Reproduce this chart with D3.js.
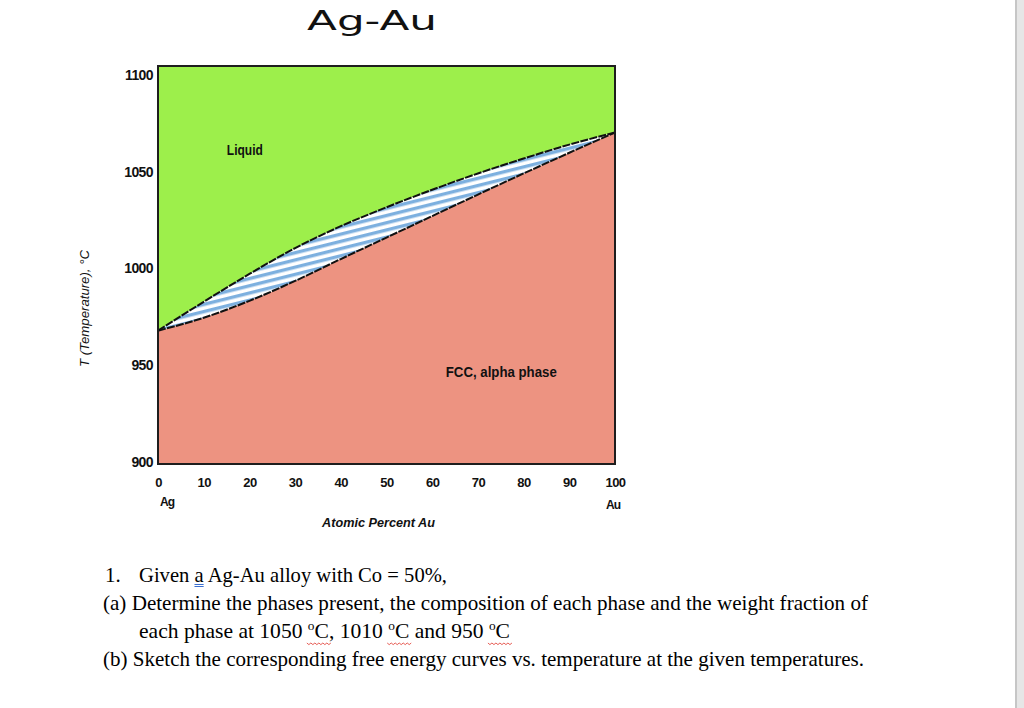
<!DOCTYPE html>
<html><head><meta charset="utf-8">
<script src="https://cdn.jsdelivr.net/npm/d3@7/dist/d3.min.js"></script>
<style>body{margin:0;background:#fff;overflow:hidden} svg{display:block}</style>
</head><body><svg id="c" width="1024" height="708"></svg>
<script>
// ---- data ----
const composition = [0, 10, 20, 30, 40, 50, 60, 70, 80, 90, 100];
const liquidusT   = [967, 981.5, 995.5, 1008.5, 1019.5, 1029, 1037.8, 1046, 1053.5, 1060.5, 1066.6];
const solidusT    = [967, 973.5, 982, 992, 1003, 1013.8, 1024.6, 1035.4, 1046, 1056.4, 1066.6];
const xTickValues = [0, 10, 20, 30, 40, 50, 60, 70, 80, 90, 100];
const yTickValues = [900, 950, 1000, 1050, 1100];
const endLabels   = ["Ag", "Au"];
const phaseNames  = ["Liquid", "FCC, alpha phase"];
const titleText   = "Ag-Au";
const xTitle      = "Atomic Percent Au";
const yTitle      = "T (Temperature), \u00B0C";

const svg = d3.select("#c");
const W = 1024, H = 708;
svg.append("rect").attr("width", W).attr("height", H).attr("fill", "#fff");

// page edge
svg.append("rect").attr("x", 1015).attr("y", 0).attr("width", 2).attr("height", H).attr("fill", "#c6c6c6");
svg.append("rect").attr("x", 1017).attr("y", 0).attr("width", 7).attr("height", H).attr("fill", "#e6e6e6");

const plot = {left: 158, right: 615, top: 66, bottom: 464};
const x = d3.scaleLinear().domain([0, 100]).range([plot.left, plot.right]);
const y = d3.scaleLinear().domain([900, 1100]).range([plot.bottom, plot.top]);
const yLab = d3.scaleLinear().domain([900, 1100]).range([462, 75]);

// hatch pattern
const defs = svg.append("defs");
const pat = defs.append("pattern").attr("id", "hatch").attr("patternUnits", "userSpaceOnUse")
  .attr("width", 10).attr("height", 7).attr("patternTransform", "rotate(-14)");
pat.append("rect").attr("width", 10).attr("height", 7).attr("fill", "#ffffff");
pat.append("rect").attr("y", 0).attr("width", 10).attr("height", 3.4).attr("fill", "#7db0df");

const pts = composition.map((c, i) => ({c, liq: liquidusT[i], sol: solidusT[i]}));
const curve = d3.curveMonotoneX;

svg.append("path").datum(pts)
  .attr("d", d3.area().curve(curve).x(d => x(d.c)).y0(y(1100)).y1(d => y(d.liq)))
  .attr("fill", "#9def4b");
svg.append("path").datum(pts)
  .attr("d", d3.area().curve(curve).x(d => x(d.c)).y0(y(900)).y1(d => y(d.sol)))
  .attr("fill", "#ed9381");
svg.append("path").datum(pts)
  .attr("d", d3.area().curve(curve).x(d => x(d.c)).y0(d => y(d.sol)).y1(d => y(d.liq)))
  .attr("fill", "url(#hatch)");

svg.append("path").datum(pts)
  .attr("d", d3.line().curve(curve).x(d => x(d.c)).y(d => y(d.liq)))
  .attr("fill", "none").attr("stroke", "#111").attr("stroke-width", 2).attr("stroke-dasharray", "8,1.3");
svg.append("path").datum(pts)
  .attr("d", d3.line().curve(curve).x(d => x(d.c)).y(d => y(d.sol)))
  .attr("fill", "none").attr("stroke", "#111").attr("stroke-width", 2).attr("stroke-dasharray", "8,1.3");

// frame
svg.append("rect").attr("x", plot.left).attr("y", plot.top)
  .attr("width", plot.right - plot.left).attr("height", plot.bottom - plot.top)
  .attr("fill", "none").attr("stroke", "#1e1e1e").attr("stroke-width", 2);

const labFont = "'Liberation Sans', Arial, sans-serif";

// y tick labels
const yAxis = d3.axisLeft(yLab).tickValues(yTickValues).tickSize(0).tickPadding(0).tickFormat(d3.format("d"));
const gy = svg.append("g").attr("transform", "translate(153,0)").call(yAxis);
gy.select(".domain").remove();
gy.selectAll("text").attr("font-family", labFont).attr("font-weight", "bold")
  .attr("font-size", 14).attr("letter-spacing", -0.6).attr("fill", "#111");

// x tick labels
const xAxis = d3.axisBottom(x).tickValues(xTickValues).tickSize(0).tickPadding(0).tickFormat(d3.format("d"));
const gx = svg.append("g").attr("transform", "translate(0,478)").call(xAxis);
gx.select(".domain").remove();
gx.selectAll("text").attr("font-family", labFont).attr("font-weight", "bold")
  .attr("font-size", 13).attr("letter-spacing", -0.5).attr("fill", "#111");

// Ag / Au end labels
svg.append("text").attr("x", x(0) + 9).attr("y", 506).attr("text-anchor", "middle")
  .attr("font-family", labFont).attr("font-weight", "bold").attr("font-size", 12).attr("letter-spacing", -1)
  .attr("fill", "#111").text(endLabels[0]);
svg.append("text").attr("x", x(100) - 2).attr("y", 509).attr("text-anchor", "middle")
  .attr("font-family", labFont).attr("font-weight", "bold").attr("font-size", 12).attr("letter-spacing", -1)
  .attr("fill", "#111").text(endLabels[1]);

// axis titles
svg.append("text").attr("x", 322).attr("y", 527)
  .attr("textLength", 113).attr("lengthAdjust", "spacingAndGlyphs")
  .attr("font-family", labFont).attr("font-weight", "bold").attr("font-style", "italic")
  .attr("font-size", 12.5).attr("fill", "#111").text(xTitle);
svg.append("text").attr("transform", "translate(89,367) rotate(-90)")
  .attr("textLength", 117).attr("lengthAdjust", "spacingAndGlyphs")
  .attr("font-family", labFont).attr("font-style", "italic")
  .attr("font-size", 12).attr("fill", "#111").text(yTitle);

// phase labels
svg.append("text").attr("x", x(19) - 18).attr("y", y(1057.5)).attr("dy", "0.35em")
  .attr("textLength", 36).attr("lengthAdjust", "spacingAndGlyphs")
  .attr("font-family", labFont).attr("font-weight", "bold").attr("font-size", 14)
  .attr("fill", "#111").text(phaseNames[0]);
svg.append("text").attr("x", x(75) - 55).attr("y", y(946)).attr("dy", "0.35em")
  .attr("textLength", 111).attr("lengthAdjust", "spacingAndGlyphs")
  .attr("font-family", labFont).attr("font-weight", "bold").attr("font-size", 14)
  .attr("fill", "#111").text(phaseNames[1]);

// title
svg.append("text").attr("x", 307).attr("y", 30)
  .attr("font-family", "'DejaVu Sans', Verdana, sans-serif").attr("font-size", 27)
  .attr("textLength", 130).attr("lengthAdjust", "spacingAndGlyphs")
  .attr("fill", "#111").text(titleText);

// ---- question text ----
const serif = "'Liberation Serif', 'Times New Roman', serif";
const tx = svg.append("g").attr("font-family", serif).attr("font-size", 21).attr("fill", "#000");

tx.append("text").attr("x", 105).attr("y", 582).text("1.");
const l1b = tx.append("text").attr("x", 139).attr("y", 582).attr("textLength", 308).attr("lengthAdjust", "spacingAndGlyphs")
  .text("Given a Ag-Au alloy with Co = 50%,");

tx.append("text").attr("x", 103).attr("y", 610).attr("textLength", 765).attr("lengthAdjust", "spacingAndGlyphs")
  .text("(a) Determine the phases present, the composition of each phase and the weight fraction of");

const l3 = tx.append("text").attr("x", 139).attr("y", 638).attr("textLength", 371).attr("lengthAdjust", "spacingAndGlyphs");
const segs3 = [["each phase at 1050 ", 0], ["o", 1], ["C, 1010 ", 0], ["o", 1], ["C and 950 ", 0], ["o", 1], ["C", 0]];
segs3.forEach(([t, sup], i) => {
  const s = l3.append("tspan").text(t);
  if (sup) s.attr("font-size", 13).attr("dy", -8);
  else if (i > 0) s.attr("dy", 8);
});

tx.append("text").attr("x", 103).attr("y", 666).attr("textLength", 761).attr("lengthAdjust", "spacingAndGlyphs")
  .text("(b) Sketch the corresponding free energy curves vs. temperature at the given temperatures.");

// word-processor marks: blue double underline under "a", red wavy under °C
try {
  const n1 = l1b.node();
  const ea = n1.getExtentOfChar("Given ".length);
  [2.5, 4.5].forEach(off => svg.append("line").attr("x1", ea.x).attr("x2", ea.x + ea.width)
    .attr("y1", 582 + off).attr("y2", 582 + off).attr("stroke", "#3b6fd0").attr("stroke-width", 1));
} catch (e) {}
try {
  const n3 = l3.node();
  const full = segs3.map(s => s[0]).join("");
  let idx = -1;
  while ((idx = full.indexOf("oC", idx + 1)) !== -1) {
    const a = n3.getExtentOfChar(idx), b = n3.getExtentOfChar(idx + 1);
    const x0 = a.x - 1, x1 = b.x + b.width + 1;
    let dpath = "M" + x0 + "," + 643;
    for (let xx = x0, k = 0; xx < x1; xx += 2, k++) dpath += "L" + (xx + 2) + "," + (643 + (k % 2 ? 0 : 1.6));
    svg.append("path").attr("d", dpath).attr("fill", "none").attr("stroke", "#e0342a").attr("stroke-width", 0.8);
  }
} catch (e) {}
</script></body></html>
